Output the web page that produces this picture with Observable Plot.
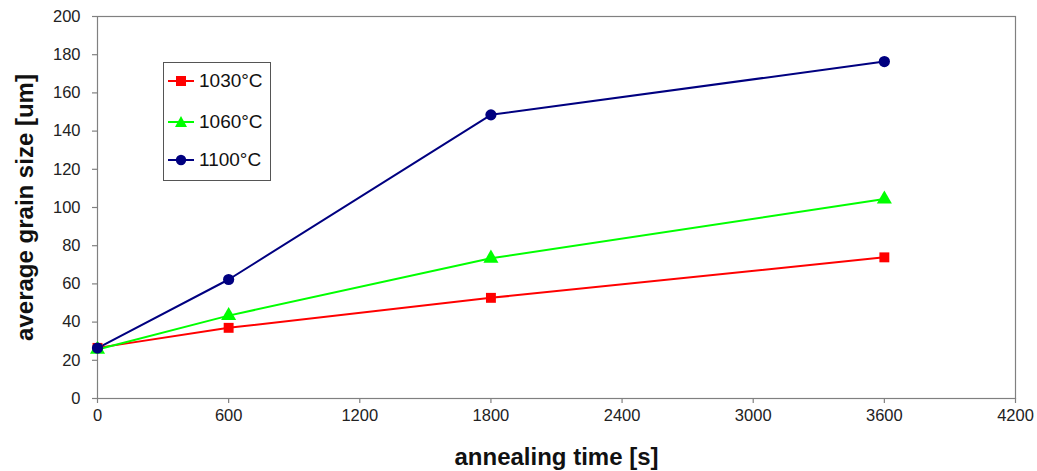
<!DOCTYPE html>
<html>
<head>
<meta charset="utf-8">
<script src="https://cdn.jsdelivr.net/npm/d3@7"></script>
<script src="https://cdn.jsdelivr.net/npm/@observablehq/plot@0.6"></script>
<style>
  body { margin: 0; background: #fff; }
  #wrap { position: relative; width: 1037px; height: 471px; font-family: "Liberation Sans", Arial, sans-serif; }
  #legend { position: absolute; left: 163px; top: 62px; width: 106px; height: 117px; border: 1px solid #555; background: #fff; }
  .row { position: absolute; left: 0; height: 20px; display: flex; align-items: center; }
  .row span { font-size: 19px; color: #111; margin-left: 5px; }
</style>
</head>
<body>
<div id="wrap"></div>
<script>
const times = [0, 600, 1800, 3600];
const series = ["1030°C", "1060°C", "1100°C"];
const s1030 = [26.5, 37.0, 52.7, 73.9];
const s1060 = [25.7, 43.4, 73.4, 104.4];
const s1100 = [26.4, 62.3, 148.5, 176.4];
const colors = ["#ff0000", "#00ff00", "#000080"];
const symbols = ["square", "triangle", "circle"];
const xTicks = [0, 600, 1200, 1800, 2400, 3000, 3600, 4200];
const yTicks = [0, 20, 40, 60, 80, 100, 120, 140, 160, 180, 200];

const valuesBySeries = [s1030, s1060, s1100];
const rows = [];
series.forEach((s, i) => times.forEach((t, j) => rows.push({series: s, time: t, size: valuesBySeries[i][j]})));

const axisGray = "#808080";
const fmt = d3.format("d");
const chart = Plot.plot({
  width: 1037,
  height: 471,
  marginLeft: 97,
  marginRight: 22,
  marginTop: 16,
  marginBottom: 73,
  style: {fontFamily: "'Liberation Sans', Arial, sans-serif", background: "#fff"},
  x: {domain: [0, 4200]},
  y: {domain: [0, 200]},
  color: {domain: series, range: colors},
  symbol: {domain: series, range: symbols},
  marks: [
    Plot.frame({stroke: axisGray, strokeWidth: 1.2}),
    Plot.axisX({ticks: xTicks, tickFormat: fmt, tickSize: 5, tickPadding: 6, stroke: axisGray, strokeWidth: 1.2, fontSize: 16.5, fill: "#222", label: null}),
    Plot.axisY({ticks: yTicks, tickFormat: fmt, tickSize: 5, tickPadding: 12, stroke: axisGray, strokeWidth: 1.2, fontSize: 16.5, fill: "#222", label: null}),
    Plot.line(rows, {x: "time", y: "size", z: "series", stroke: "series", strokeWidth: 2}),
    Plot.dot(rows, {x: "time", y: "size", fill: "series", symbol: "series", r: 5.6, stroke: null}),
    Plot.text(["annealing time [s]"], {frameAnchor: "bottom", dy: 59, fontSize: 24, fontWeight: "bold", fill: "#111", lineAnchor: "middle"}),
    Plot.text(["average grain size [um]"], {frameAnchor: "left", dx: -72, rotate: -90, textAnchor: "middle", fontSize: 24, fontWeight: "bold", fill: "#111", lineAnchor: "middle"})
  ]
});
const wrap = document.getElementById("wrap");
wrap.appendChild(chart);

// legend
const legend = document.createElement("div");
legend.id = "legend";
const shapeSvg = {
  square: c => `<rect x="8" y="5" width="10" height="10" fill="${c}"/>`,
  triangle: c => `<polygon points="13,4 19,15 7,15" fill="${c}"/>`,
  circle: c => `<circle cx="13" cy="10" r="5.2" fill="${c}"/>`
};
const rowTops = [8, 49, 87];
series.forEach((s, i) => {
  const r = document.createElement("div");
  r.className = "row";
  r.style.top = rowTops[i] + "px";
  r.style.left = "4px";
  r.innerHTML = `<svg width="26" height="20"><line x1="0" y1="10" x2="26" y2="10" stroke="${colors[i]}" stroke-width="2"/>${shapeSvg[symbols[i]](colors[i])}</svg><span>${s}</span>`;
  legend.appendChild(r);
});
wrap.appendChild(legend);
</script>
</body>
</html>
